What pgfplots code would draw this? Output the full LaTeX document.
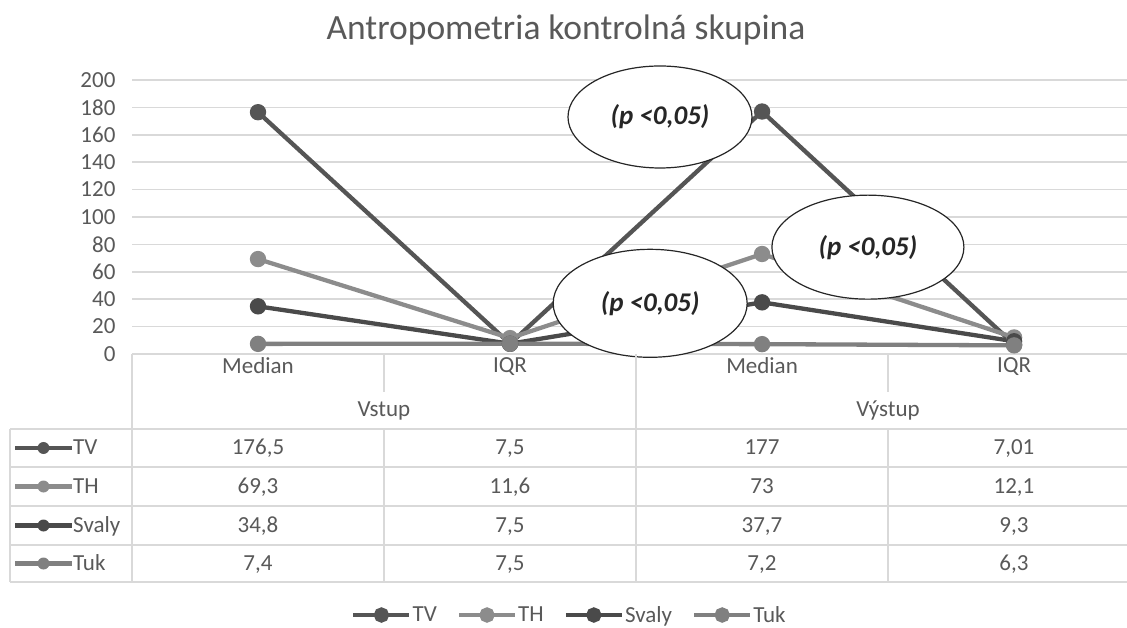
\documentclass[border=0pt]{standalone}
\usepackage{fontspec}
\setmainfont{Carlito}
\usepackage{pgfplots}
\pgfplotsset{compat=1.18}
\usetikzlibrary{shapes.geometric}
\definecolor{txt}{HTML}{595959}
\definecolor{grd}{HTML}{D9D9D9}
\definecolor{cTV}{HTML}{555555}
\definecolor{cTH}{HTML}{8C8C8C}
\definecolor{cSv}{HTML}{4A4A4A}
\definecolor{cTuk}{HTML}{808080}
\newcommand{\tf}{\fontsize{23}{28}\selectfont}
\begin{document}
\begin{tikzpicture}[x=1pt,y=1pt]
\useasboundingbox (0,0) rectangle (1127,627);
\node[text=txt, font=\fontsize{35.5}{42}\selectfont] at (566,597) {Antropometria kontrolná skupina};
\begin{axis}[
  at={(132pt,273pt)}, anchor=south west, scale only axis,
  width=995pt, height=274pt,
  xmin=-0.5, xmax=3.448, ymin=0, ymax=200,
  clip=false,
  axis line style={draw=none},
  ytick={0,20,...,200}, ymajorgrids,
  grid style={grd, line width=1.5pt},
  major tick length=0pt,
  xtick={0,1,2,3}, xticklabels={Median,IQR,Median,IQR},
  tick label style={text=txt, font=\tf},
  /pgf/number format/assume math mode=true,
  yticklabel style={xshift=-13pt},
  legend style={at={(0.4392,-0.9526)}, anchor=center, draw=none,
    legend columns=4, font=\tf, text=txt,
    nodes={inner xsep=1pt},
    /tikz/every even column/.append style={column sep=19pt}},
  legend cell align=left,
  legend image code/.code={\draw[mark repeat=2,mark phase=2,#1,mark size=5.5pt] plot coordinates {(0pt,0pt) (28pt,0pt) (56pt,0pt)};},
  every axis plot/.append style={line width=4.3pt, mark=*, mark size=6pt, mark options={solid}},
]
\addplot[cTV] coordinates {(0,176.5) (1,7.5) (2,177) (3,7.01)};
\addplot[cTH] coordinates {(0,69.3) (1,11.6) (2,73) (3,12.1)};
\addplot[cSv] coordinates {(0,34.8) (1,7.5) (2,37.7) (3,9.3)};
\addplot[cTuk] coordinates {(0,7.4) (1,7.5) (2,7.2) (3,6.3)};
\legend{TV,TH,Svaly,Tuk}
\begin{scope}[every node/.style={ellipse, draw=black!85, fill=white, line width=1.2pt, inner sep=0pt, font=\fontsize{27}{30}\selectfont\bfseries\itshape, text=black!85}]
\node[minimum width=184pt, minimum height=102pt] at (axis cs:1.595,173) {(p <0,05)};
\node[minimum width=192pt, minimum height=104pt] at (axis cs:2.42,78) {(p <0,05)};
\node[minimum width=194pt, minimum height=108pt] at (axis cs:1.556,37) {(p <0,05)};
\end{scope}
\end{axis}
% table lines
\begin{scope}[grd, line width=1.5pt]
\foreach \yy in {198,160,121,82,45} {\draw (10,\yy) -- (1127,\yy);}
\draw (10,198) -- (10,45);
\draw (132,273) -- (132,45);
\draw (636,273) -- (636,45);
\draw (384,273) -- (384,235); \draw (384,198) -- (384,45);
\draw (888,273) -- (888,235); \draw (888,198) -- (888,45);
\end{scope}
\begin{scope}[every node/.style={text=txt, font=\tf, anchor=base, inner sep=0pt}]
\node at (384,210) {Vstup};
\node at (888,210) {Výstup};
% row keys and labels
\foreach \c/\lab/\yy in {cTV/TV/179, cTH/TH/140.5, cSv/Svaly/101.5, cTuk/Tuk/63.5} {
  \draw[\c, line width=4.5pt] (15,\yy) -- (72,\yy);
  \fill[\c] (43.5,\yy) circle (6pt);
  \node[anchor=base west] at (73,\yy-7) {\lab};
}
\foreach \yy/\a/\b/\cc/\d in {179/176{,}5/7{,}5/177/7{,}01, 140.5/69{,}3/11{,}6/73/12{,}1, 101.5/34{,}8/7{,}5/37{,}7/9{,}3, 63.5/7{,}4/7{,}5/7{,}2/6{,}3} {
  \node at (258,\yy-7) {\a};
  \node at (510,\yy-7) {\b};
  \node at (762,\yy-7) {\cc};
  \node at (1014,\yy-7) {\d};
}
\end{scope}
\end{tikzpicture}
\end{document}
